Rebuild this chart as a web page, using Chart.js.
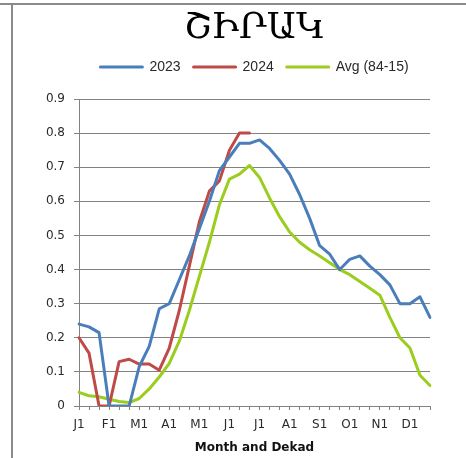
<!DOCTYPE html>
<html>
<head>
<meta charset="utf-8">
<script src="https://cdn.jsdelivr.net/npm/chart.js@4.4.1/dist/chart.umd.min.js"></script>
<style>
  html, body { margin: 0; padding: 0; background: #fff; }
  #wrap { position: relative; width: 466px; height: 458px; overflow: hidden; }
  #topLine { position: absolute; left: 0; top: 3px; width: 466px; height: 2px; background: #8a8a8a; }
  #leftLine { position: absolute; left: 11px; top: 3px; width: 2px; height: 460px; background: #8a8a8a; }
</style>
</head>
<body>
<div id="wrap">
  <canvas id="chart" width="466" height="458"></canvas>
  <div id="topLine"></div>
  <div id="leftLine"></div>
</div>
<script>
// 36 dekads, labels shown only on the first dekad of each month
const dekads = [
  'J1','J2','J3','F1','F2','F3','M1','M2','M3','A1','A2','A3',
  'M1','M2','M3','J1','J2','J3','J1','J2','J3','A1','A2','A3',
  'S1','S2','S3','O1','O2','O3','N1','N2','N3','D1','D2','D3'
];

const y2023 = [
  0.24, 0.232, 0.215, 0, 0, 0, 0.115, 0.175, 0.285, 0.30, 0.37, 0.44,
  0.52, 0.60, 0.69, 0.73, 0.77, 0.77, 0.78, 0.755, 0.72, 0.68, 0.62, 0.55,
  0.47, 0.445, 0.40, 0.43, 0.44, 0.41, 0.385, 0.355, 0.30, 0.30, 0.32, 0.26
];

const y2024 = [
  0.20, 0.155, 0, 0, 0.13, 0.137, 0.123, 0.123, 0.105, 0.17, 0.28, 0.41,
  0.54, 0.63, 0.66, 0.75, 0.80, 0.80
];

const avg8415 = [
  0.04, 0.03, 0.027, 0.02, 0.013, 0.01, 0.022, 0.05, 0.085, 0.125, 0.19, 0.28,
  0.38, 0.48, 0.59, 0.665, 0.68, 0.705, 0.67, 0.61, 0.555, 0.51, 0.48, 0.458,
  0.44, 0.42, 0.40, 0.385, 0.365, 0.345, 0.325, 0.26, 0.20, 0.17, 0.09, 0.06
];

const seriesNames = ['2023', '2024', 'Avg (84-15)'];
const seriesColors = ['#4a7ebb', '#be4b48', '#9acd1e'];

const gridColor = '#828282';
const textColor = '#2a2a2a';

function lineSet(label, data, color) {
  return {
    label, data,
    borderColor: color,
    backgroundColor: color,
    borderWidth: 3,
    pointRadius: 0,
    pointHoverRadius: 0,
    tension: 0,
    fill: false,
    borderJoinStyle: 'round',
    borderCapStyle: 'round',
    spanGaps: false
  };
}

new Chart(document.getElementById('chart'), {
  type: 'line',
  data: {
    labels: dekads,
    datasets: [
      lineSet(seriesNames[0], y2023, seriesColors[0]),
      lineSet(seriesNames[1], y2024, seriesColors[1]),
      lineSet(seriesNames[2], avg8415, seriesColors[2])
    ]
  },
  options: {
    responsive: false,
    animation: false,
    devicePixelRatio: 1,
    layout: { padding: { top: 0, left: 0, right: 36, bottom: 0 } },
    plugins: {
      title: {
        display: true,
        text: 'ՇԻՐԱԿ',
        fullSize: false,
        color: '#000',
        font: { family: "'DejaVu Serif', 'DejaVu Sans', serif", size: 36, weight: 'normal', lineHeight: 1 },
        padding: { top: 11, bottom: 0 }
      },
      legend: {
        display: true,
        position: 'top',
        fullSize: false,
        labels: {
          boxWidth: 42,
          boxHeight: 0,
          padding: 13,
          color: textColor,
          font: { family: "'Liberation Sans', Arial, sans-serif", size: 14 }
        }
      },
      // empty subtitle used as a spacer between legend and plot
      subtitle: {
        display: true,
        text: '',
        weight: 500,
        fullSize: false,
        font: { size: 10, lineHeight: 1.5 },
        padding: 0
      },
      tooltip: { enabled: false }
    },
    scales: {
      x: {
        type: 'category',
        offset: false,
        grid: { display: true, drawOnChartArea: false, drawTicks: true, tickLength: 4, color: gridColor, offset: false },
        border: { display: true, color: gridColor, width: 1 },
        ticks: {
          autoSkip: false, maxRotation: 0, minRotation: 0, padding: 8,
          color: textColor,
          font: { family: "'DejaVu Sans', sans-serif", size: 12 },
          callback: function (v) {
            const l = this.getLabelForValue(v);
            return l.endsWith('1') ? l : '';
          }
        },
        title: {
          display: true,
          text: 'Month and Dekad',
          color: '#111',
          font: { family: "'DejaVu Sans', sans-serif", size: 12, weight: 'bold' },
          padding: { top: 0, bottom: 3 }
        },
        afterFit: s => { s.height = 52; }
      },
      y: {
        min: 0,
        max: 0.9,
        grid: { color: gridColor, tickLength: 5, lineWidth: 1 },
        border: { display: true, color: gridColor, width: 1 },
        ticks: {
          stepSize: 0.1, padding: 9,
          color: textColor,
          font: { family: "'DejaVu Sans', sans-serif", size: 12 },
          callback: v => v === 0 ? '0' : v.toFixed(1)
        },
        afterFit: s => { s.width = 79; }
      }
    }
  }
});
</script>
</body>
</html>
